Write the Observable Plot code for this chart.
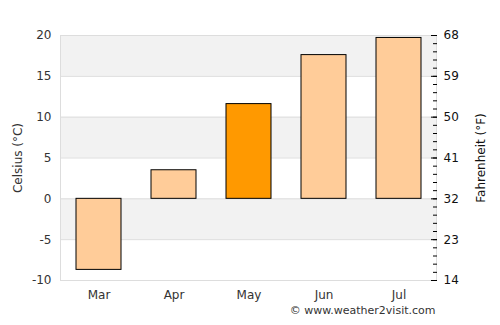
<!DOCTYPE html>
<html>
<head>
<meta charset="utf-8">
<script src="https://cdn.jsdelivr.net/npm/d3@7"></script>
<script src="https://cdn.jsdelivr.net/npm/@observablehq/plot@0.6"></script>
<style>
html,body{margin:0;padding:0;background:#fff;}
svg{font-family:"DejaVu Sans",sans-serif;}
</style>
</head>
<body>
<div id="chart"></div>
<script>
const months = ["Mar","Apr","May","Jun","Jul"];
const celsius = [-8.7, 3.5, 11.6, 17.6, 19.7];
const highlight = [false, false, true, false, false];
const cTicks = [-10,-5,0,5,10,15,20];
const fLabels = ["14","23","32","41","50","59","68"];
const bandLow = [-5, 5, 15];
const bandHigh = [0, 10, 20];

const data = months.map((m,i)=>({month:m, value:celsius[i], hi:highlight[i]}));
const bands = bandLow.map((lo,i)=>({lo, hi:bandHigh[i]}));
const minor = d3.range(-10, 21, 1);

const chart = Plot.plot({
  width: 500,
  height: 325,
  marginLeft: 60,
  marginRight: 64,
  marginTop: 35,
  marginBottom: 45,
  style: {fontFamily: "DejaVu Sans, sans-serif", fontSize: "11px", color: "#333", background: "#fff"},
  x: {domain: months, paddingInner: 0.4, paddingOuter: 0.2, label: null},
  y: {domain: [-10, 20], label: null},
  marks: [
    Plot.rectY(bands, {y1: "lo", y2: "hi", fill: "#f2f2f2"}),
    Plot.ruleY(cTicks, {stroke: "#dddddd", strokeWidth: 1}),
    Plot.frame({anchor: "left", stroke: "#dddddd"}),
    Plot.frame({anchor: "right", stroke: "#dddddd"}),
    Plot.barY(data, {x: "month", y: "value", fill: d => d.hi ? "#ff9900" : "#ffcc99", stroke: "#000", strokeWidth: 1}),
    Plot.axisY({anchor: "left", ticks: cTicks, tickSize: 0, tickPadding: 9, fontSize: 12, fill: "#333", tickFormat: d => String(d), label: null}),
    Plot.axisY({anchor: "right", ticks: minor, tickSize: 4, dx: -4, tickFormat: () => "", label: null, stroke: "#000"}),
    Plot.axisY({anchor: "right", ticks: cTicks, tickSize: 6, dx: -6, tickFormat: (d) => fLabels[cTicks.indexOf(d)], tickPadding: 7, fontSize: 12, fill: "#111", label: null, stroke: "#000"}),
    Plot.axisX({anchor: "bottom", tickSize: 0, tickPadding: 10, fontSize: 12, fill: "#333", label: null}),
    Plot.text(["Celsius (°C)"], {frameAnchor: "left", textAnchor: "middle", rotate: -90, dx: -42, fontSize: 12, fill: "#333"}),
    Plot.text(["Fahrenheit (°F)"], {frameAnchor: "right", textAnchor: "middle", rotate: -90, dx: 45, fontSize: 12, fill: "#111"}),
    Plot.text(["© www.weather2visit.com"], {frameAnchor: "bottom-right", textAnchor: "end", dy: 33, dx: -1, fontSize: 11, fill: "#333"})
  ]
});
document.getElementById("chart").appendChild(chart);
</script>
</body>
</html>
